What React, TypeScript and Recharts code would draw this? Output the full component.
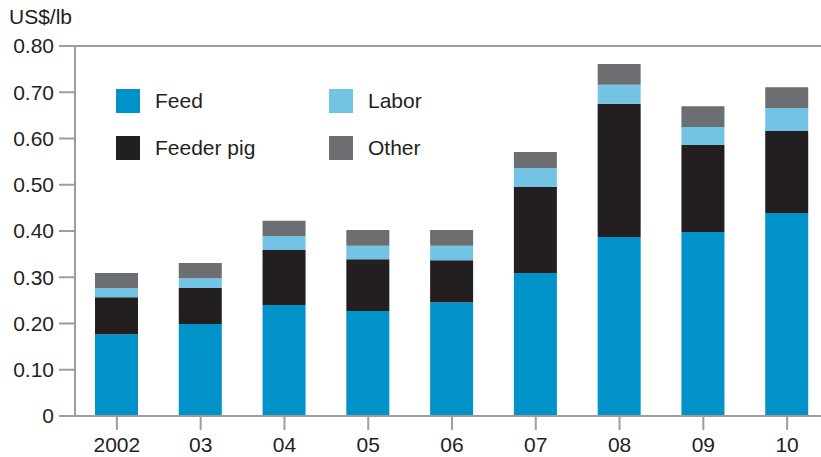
import React from "react";
import {
  BarChart,
  Bar,
  XAxis,
  YAxis,
  Legend,
  ReferenceLine,
} from "recharts";

const YEARS = ["2002", "03", "04", "05", "06", "07", "08", "09", "10"];
const FEED = [0.177, 0.199, 0.24, 0.227, 0.246, 0.309, 0.387, 0.398, 0.439];
const FEEDER_PIG = [0.08, 0.078, 0.119, 0.112, 0.091, 0.186, 0.288, 0.188, 0.177];
const LABOR = [0.02, 0.021, 0.03, 0.029, 0.031, 0.041, 0.041, 0.039, 0.05];
const OTHER = [0.032, 0.033, 0.033, 0.034, 0.034, 0.035, 0.045, 0.045, 0.045];
const Y_TICKS = [0, 0.1, 0.2, 0.3, 0.4, 0.5, 0.6, 0.7, 0.8];

const data = YEARS.map((year, i) => ({
  year,
  feed: FEED[i],
  feederPig: FEEDER_PIG[i],
  labor: LABOR[i],
  other: OTHER[i],
}));

const AXIS = "#9d9d9f";
const TEXT = "#231f20";
const FONT = "'Liberation Sans', Arial, sans-serif";

// legend: two columns, Feed / Feeder pig on the left, Labor / Other on the right
function renderLegend(props: any) {
  const items = props.payload || [];
  return (
    <div
      style={{
        display: "grid",
        gridTemplateRows: "24px 24px",
        gridAutoFlow: "column",
        gridAutoColumns: "213px",
        rowGap: 23,
        fontFamily: FONT,
        fontSize: 21,
        color: TEXT,
      }}
    >
      {items.map((it: any) => (
        <div key={it.value} style={{ display: "flex", alignItems: "center", height: 24 }}>
          <span style={{ width: 24, height: 24, background: it.color, display: "inline-block", marginRight: 15 }} />
          <span style={{ whiteSpace: "nowrap" }}>{it.value}</span>
        </div>
      ))}
    </div>
  );
}

export default function App() {
  return (
    <div
      style={{
        position: "absolute",
        left: 0,
        top: 0,
        width: 821,
        height: 457,
        overflow: "hidden",
        background: "#fff",
      }}
    >
      <div
        style={{
          position: "absolute",
          left: 9,
          top: 6,
          fontFamily: FONT,
          fontSize: 21,
          lineHeight: "21px",
          color: TEXT,
        }}
      >
        US$/lb
      </div>
      <BarChart
        width={831}
        height={457}
        data={data}
        margin={{ top: 46, right: 2, bottom: 0, left: 0 }}
      >
        <XAxis
          dataKey="year"
          height={41}
          tickSize={14}
          tickMargin={7}
          axisLine={{ stroke: AXIS, strokeWidth: 2 }}
          tickLine={{ stroke: AXIS, strokeWidth: 2 }}
          tick={{ fill: TEXT, fontSize: 21, fontFamily: FONT }}
        />
        <YAxis
          width={75}
          domain={[0, 0.8]}
          ticks={Y_TICKS}
          interval={0}
          tickSize={16}
          tickMargin={5}
          tickFormatter={(v: number) => (v === 0 ? "0" : v.toFixed(2))}
          axisLine={{ stroke: AXIS, strokeWidth: 2 }}
          tickLine={{ stroke: AXIS, strokeWidth: 2 }}
          tick={{ fill: TEXT, fontSize: 21, fontFamily: FONT }}
        />
        <ReferenceLine y={0.8} stroke={AXIS} strokeWidth={2} />
        <Legend
          layout="vertical"
          align="center"
          verticalAlign="middle"
          content={renderLegend}
          wrapperStyle={{ position: "absolute", left: 116, top: 89, width: "auto", height: "auto" }}
        />
        <Bar dataKey="feed" name="Feed" stackId="a" fill="#0092c8" barSize={43} isAnimationActive={false} />
        <Bar dataKey="feederPig" name="Feeder pig" stackId="a" fill="#231f20" barSize={43} isAnimationActive={false} />
        <Bar dataKey="labor" name="Labor" stackId="a" fill="#72c3e4" barSize={43} isAnimationActive={false} />
        <Bar dataKey="other" name="Other" stackId="a" fill="#6d6e71" barSize={43} isAnimationActive={false} />
      </BarChart>
    </div>
  );
}
